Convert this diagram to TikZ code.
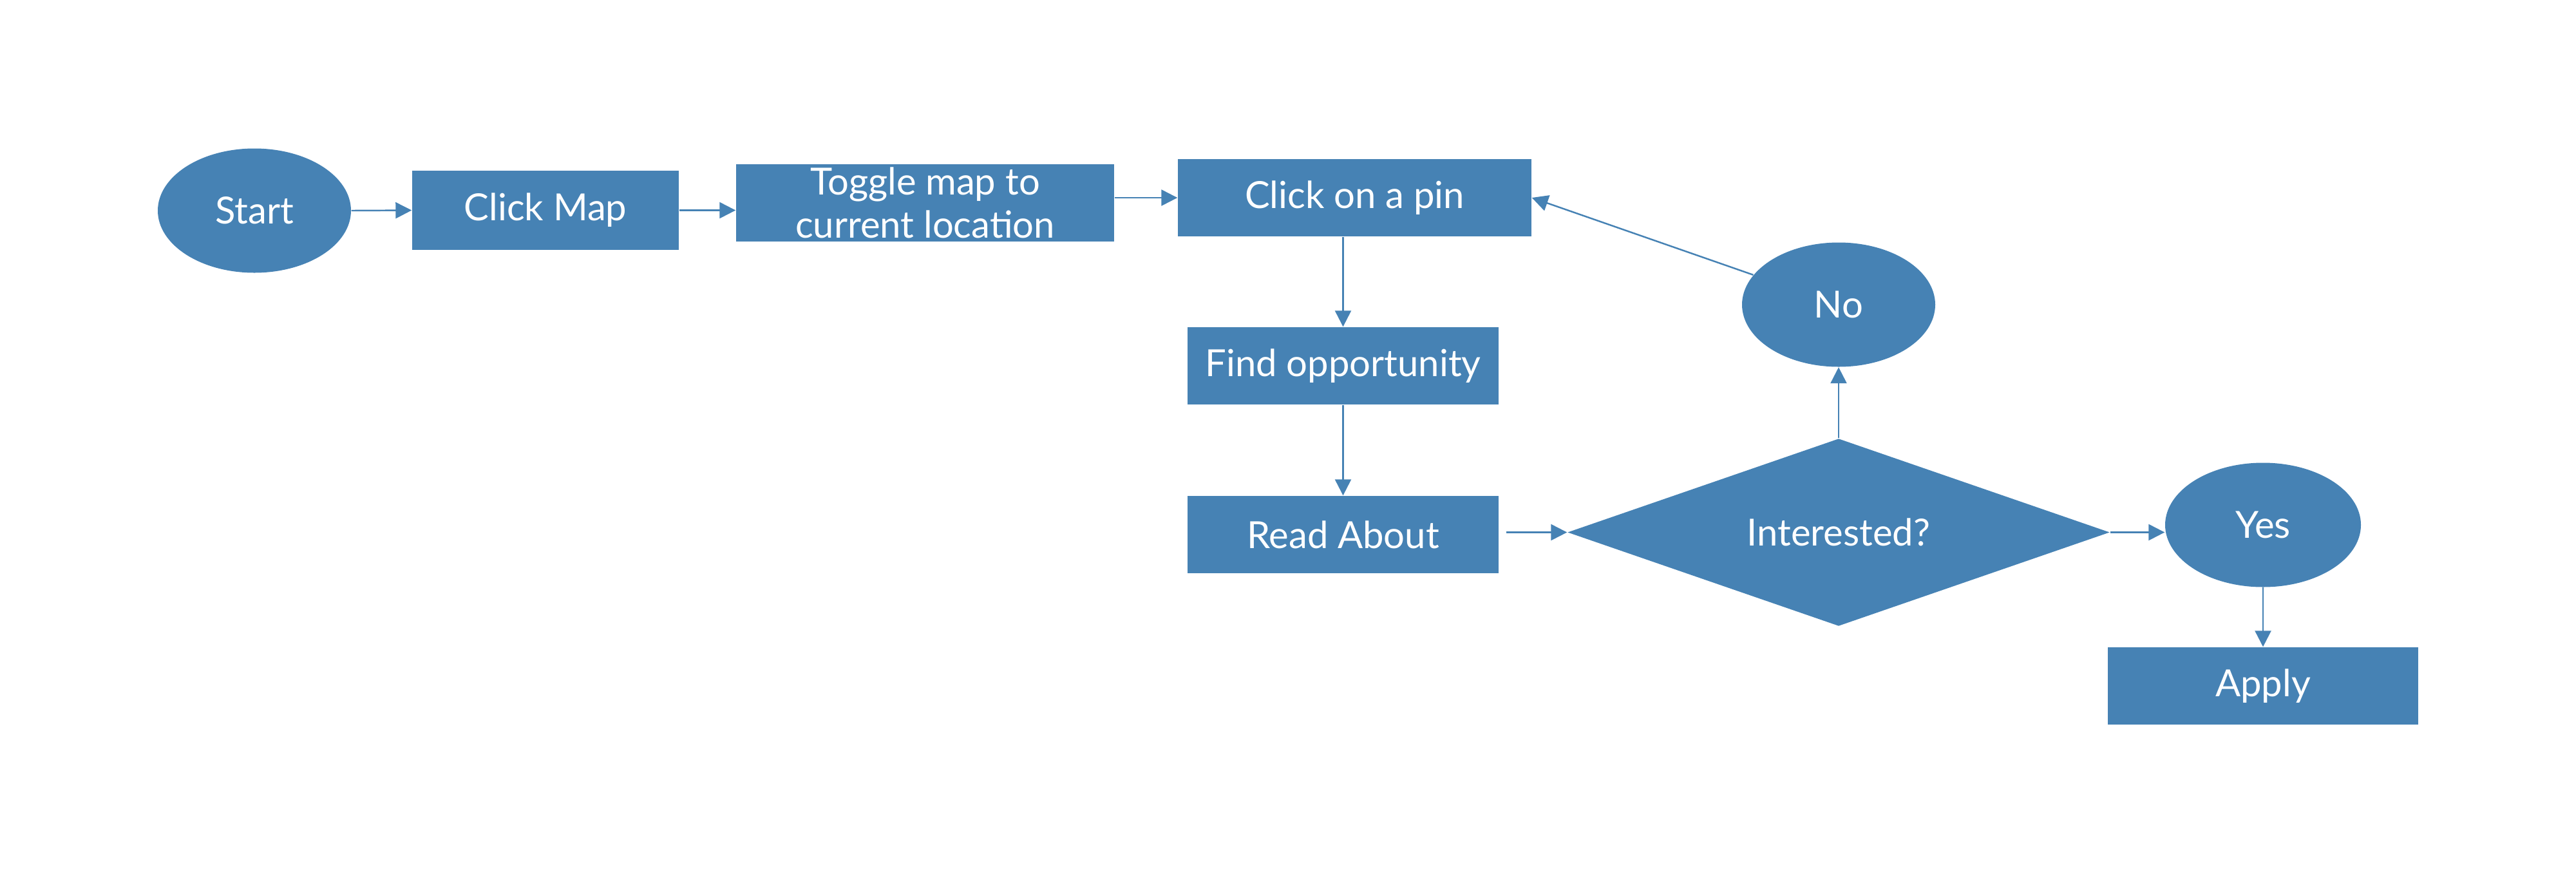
\documentclass[tikz,border=0pt]{standalone}
\usepackage{fontspec}
\setmainfont{Lato}
\usetikzlibrary{shapes.geometric,arrows.meta}
\definecolor{flowblue}{RGB}{70,130,180}

\begin{document}
\begin{tikzpicture}[
	every node/.style={inner sep=0pt, text=white, align=center, font=\fontsize{16.5}{19}\selectfont},
	procbox/.style={rectangle, fill=flowblue, minimum height=1.2cm},
	termnode/.style={ellipse, fill=flowblue, minimum width=3cm, minimum height=1.93cm},
	decision/.style={diamond, aspect=2.9, fill=flowblue, minimum width=8.42cm, minimum height=2.91cm},
	link/.style={draw=flowblue, line width=0.7pt, -{Triangle[length=0.25cm,width=0.25cm]}}
]
			\useasboundingbox (0,0) rectangle (40,-13.56);
			\node [termnode] (start) at (3.95,-3.27) {Start};
			\node [procbox, minimum width=4.14cm, minimum height=1.23cm] (clickmap) at (8.47,-3.265) {Click Map};
			\node [procbox, minimum width=5.87cm] (toggle) at (14.365,-3.15) {Toggle map to\\current location};
			\node [procbox, minimum width=5.49cm] (pin) at (21.035,-3.07) {Click on a pin};
			\node [procbox, minimum width=4.83cm] (find) at (20.855,-5.68) {Find opportunity};
			\node [procbox, minimum width=4.83cm] (read) at (20.855,-8.3) {Read About};
			\node [decision] (decide) at (28.55,-8.265) {Interested?};
			\node [termnode] (no) at (28.55,-4.73) {No};
			\node [termnode, minimum width=3.04cm] (yes) at (35.14,-8.15) {Yes};
			\node [procbox, minimum width=4.82cm] (apply) at (35.14,-10.65) {Apply};
			\draw [link] (start.east) -- (clickmap.west);
			\draw [link] (clickmap.east) -- (clickmap.east -| toggle.west);
			\draw [link] (pin.west -| toggle.east) -- (pin.west);
			\draw [link] (find.north |- pin.south) -- (find.north);
			\draw [link] (find) -- (read);
			\draw [link, shorten <=0.11cm] (decide.west -| read.east) -- (decide.west);
			\draw [link] (decide.east) -- (decide.east -| yes.west);
			\draw [link] (yes) -- (apply);
			\draw [link] (decide.north) -- (no.south);
			\draw [link] (no) -- (pin.east);
\end{tikzpicture}
\end{document}
